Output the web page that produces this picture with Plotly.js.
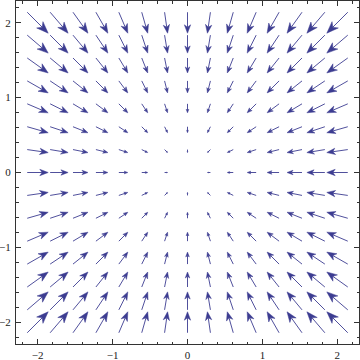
<!DOCTYPE html>
<html>
<head>
<meta charset="utf-8">
<script src="https://cdn.plot.ly/plotly-3.0.1.min.js"></script>
<style>html,body{margin:0;padding:0;background:#fff;}#chart{width:360px;height:360px;}</style>
</head>
<body>
<div id="chart"></div>
<script>
// Grid positions of the arrows (15 x 15)
const xs = [-2, -1.714, -1.429, -1.143, -0.857, -0.571, -0.286, 0, 0.286, 0.571, 0.857, 1.143, 1.429, 1.714, 2];
const ys = [-2, -1.714, -1.429, -1.143, -0.857, -0.571, -0.286, 0, 0.286, 0.571, 0.857, 1.143, 1.429, 1.714, 2];
// Horizontal component for each column, vertical component for each row (field points to the origin)
const uByColumn = [2, 1.714, 1.429, 1.143, 0.857, 0.571, 0.286, 0, -0.286, -0.571, -0.857, -1.143, -1.429, -1.714, -2];
const vByRow = [2, 1.714, 1.429, 1.143, 0.857, 0.571, 0.286, 0, -0.286, -0.571, -0.857, -1.143, -1.429, -1.714, -2];

const arrowColor = 'rgb(60,60,145)';
const scale = 0.14;

const shapes = [];
const gx = [], gy = [];
const f = n => n.toFixed(5);
for (let j = 0; j < ys.length; j++) {
  for (let i = 0; i < xs.length; i++) {
    gx.push(xs[i]); gy.push(ys[j]);
    const u = uByColumn[i], v = vByRow[j];
    const mag = Math.hypot(u, v);
    if (mag === 0) continue;
    const L = mag * scale;
    const dx = u / mag, dy = v / mag;
    const px = -dy, py = dx;
    const cx = xs[i], cy = ys[j];
    const tx = cx - dx * L / 2, ty = cy - dy * L / 2;
    const hx = cx + dx * L / 2, hy = cy + dy * L / 2;
    const hl = 0.4 * L, hw = 0.15 * L, notch = 0.28 * hl;
    const bx = hx - dx * hl, by = hy - dy * hl;
    const nx = bx + dx * notch, ny = by + dy * notch;
    shapes.push({
      type: 'line', xref: 'x', yref: 'y', layer: 'above',
      x0: tx, y0: ty, x1: nx, y1: ny,
      line: {color: arrowColor, width: 0.9}
    });
    shapes.push({
      type: 'path', xref: 'x', yref: 'y', layer: 'above',
      path: 'M' + f(hx) + ',' + f(hy) +
            ' L' + f(bx + px * hw) + ',' + f(by + py * hw) +
            ' L' + f(nx) + ',' + f(ny) +
            ' L' + f(bx - px * hw) + ',' + f(by - py * hw) + ' Z',
      fillcolor: arrowColor,
      line: {color: arrowColor, width: 0.5}
    });
  }
}

// grid anchor points (invisible), keep the axes bound to the data
const traces = [
  {x: gx, y: gy, mode: 'markers', marker: {size: 1, color: 'rgba(0,0,0,0)'}, hoverinfo: 'skip', showlegend: false}
];

const axisCommon = {
  range: [-2.29, 2.29], tick0: 0, dtick: 1,
  ticks: 'inside', ticklen: 5, tickwidth: 1, tickcolor: '#333',
  showline: true, linecolor: '#333', linewidth: 1, mirror: 'allticks',
  showgrid: false, zeroline: false, fixedrange: true,
  tickfont: {family: 'Liberation Serif, DejaVu Serif, serif', size: 11, color: '#222'},
  minor: {tick0: 0, dtick: 0.2, ticks: 'inside', ticklen: 2.5, tickwidth: 1, tickcolor: '#333', showgrid: false}
};

const layout = {
  width: 360, height: 360,
  margin: {l: 16, r: 1, t: 1, b: 16, pad: 0},
  paper_bgcolor: '#fff', plot_bgcolor: '#fff',
  xaxis: Object.assign({}, axisCommon, {ticklabelstandoff: 1}),
  yaxis: Object.assign({}, axisCommon, {ticklabelstandoff: 2}),
  shapes: shapes,
  showlegend: false
};

Plotly.newPlot('chart', traces, layout, {staticPlot: true, displayModeBar: false});
</script>
</body>
</html>
